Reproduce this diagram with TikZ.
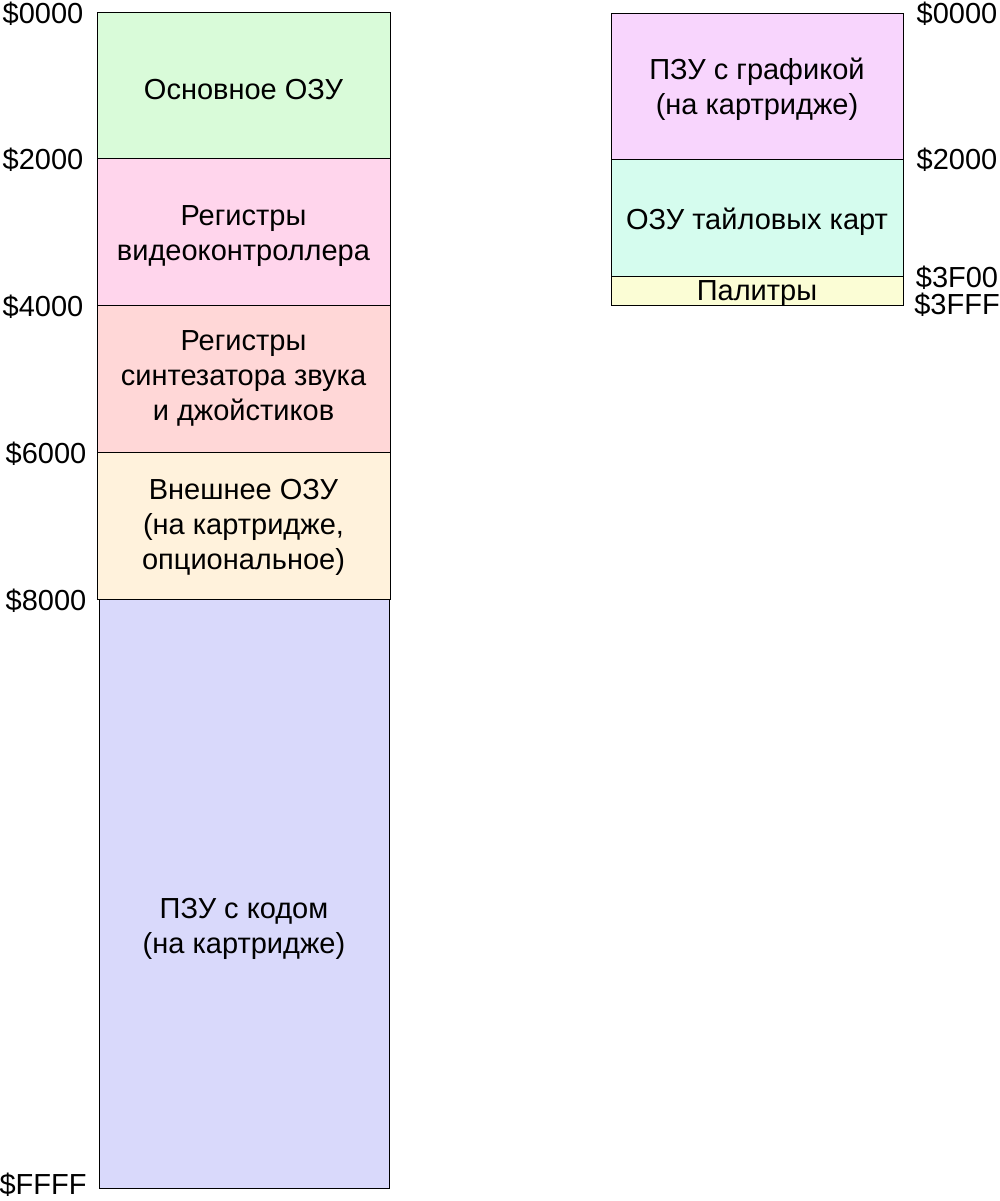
\documentclass[tikz,border=0pt]{standalone}
\usepackage{fontspec}
\setmainfont{Liberation Sans}
\begin{document}
\begin{tikzpicture}[x=1pt,y=-1pt,
 blk/.style={draw=black,line width=0.8pt,align=center,font=\fontsize{29}{35}\selectfont},
 lab/.style={font=\fontsize{29}{30}\selectfont,inner sep=0pt}]
\useasboundingbox (0,0) rectangle (999,1201);
\definecolor{c1}{HTML}{D9FBD9}\definecolor{c2}{HTML}{FFD5EC}\definecolor{c3}{HTML}{FFD7D7}
\definecolor{c4}{HTML}{FFF2DC}\definecolor{c5}{HTML}{D9D9FB}\definecolor{c6}{HTML}{F8D5FD}
\definecolor{c7}{HTML}{D5FCEE}\definecolor{c8}{HTML}{FBFDD5}
\draw[blk,fill=c1] (97,12) rectangle (390,158) node[midway,yshift=-5] (a) {Основное ОЗУ};
\draw[blk,fill=c2] (97,158) rectangle (390,305) node[midway,yshift=-5] (b) {Регистры\\видеоконтроллера};
\draw[blk,fill=c3] (97,305) rectangle (390,452) node[midway] (c) {Регистры\\синтезатора звука\\и джойстиков};
\draw[blk,fill=c4] (97,452) rectangle (390,599) node[midway,yshift=-2] (d) {Внешнее ОЗУ\\(на картридже,\\опциональное)};
\draw[blk,fill=c5] (99,599) rectangle (389,1188) node[midway,yshift=-35] (e) {ПЗУ с кодом\\(на картридже)};
\draw[blk,fill=c6] (611,13) rectangle (903,159) node[midway,yshift=-3] (f) {ПЗУ с графикой\\(на картридже)};
\draw[blk,fill=c7] (611,159) rectangle (903,276) node[midway,yshift=-4] (g) {ОЗУ тайловых карт};
\draw[blk,fill=c8] (611,276) rectangle (903,305) node[midway,yshift=-3,inner sep=0pt] (h) {Палитры};
\node[lab] (l1) at (43,14) {\$0000};
\node[lab] (l2) at (43,160) {\$2000};
\node[lab] (l3) at (43,307) {\$4000};
\node[lab] (l4) at (46,454) {\$6000};
\node[lab] (l5) at (46,601) {\$8000};
\node[lab] (l6) at (43,1185) {\$FFFF};
\node[lab] (r1) at (957,14) {\$0000};
\node[lab] (r2) at (957,160) {\$2000};
\node[lab] (r3) at (957,278) {\$3F00};
\node[lab] (r4) at (957,305) {\$3FFF};
\end{tikzpicture}
\end{document}
